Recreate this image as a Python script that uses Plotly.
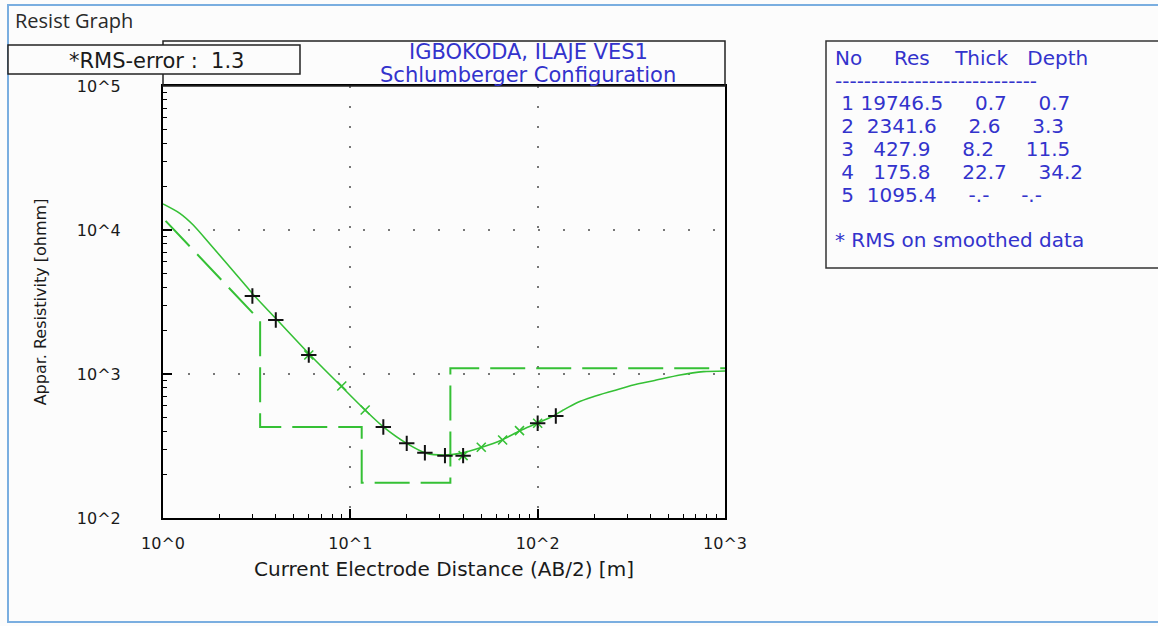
import plotly.graph_objects as go

# ---------------- data ----------------
# Layer model (table on the right)
layer_no = [1, 2, 3, 4, 5]
layer_res = [19746.5, 2341.6, 427.9, 175.8, 1095.4]
layer_thick = [0.7, 2.6, 8.2, 22.7, None]
layer_depth = [0.7, 3.3, 11.5, 34.2, None]
rms_error = 1.3

# Field data (black +)
obs_ab2 = [3, 4, 6, 15, 20, 25, 32, 40, 100, 125]
obs_rho = [3480, 2370, 1355, 428, 330, 284, 271, 271, 455, 511]

# Smoothed data (green x)
sm_ab2 = [6, 9, 12, 40, 50, 65, 80, 100]
sm_rho = [1355, 826, 562, 271, 310, 348, 404, 455]

# Computed (model) sounding curve
curve_ab2 = [1.0, 1.23, 1.45, 1.78, 2.19, 2.69, 3.03, 4.05, 6.1, 8.8, 12.25,
             15.0, 20.0, 25.6, 31.4, 38.5, 50.4, 64.3, 80.5, 99.5, 121, 137,
             162, 198, 254, 324, 415, 575, 767, 1000]
curve_rho = [15170, 13060, 10840, 8000, 5850, 4285, 3565, 2388, 1355, 839, 547,
             430, 330, 281, 274, 281, 310, 348, 404, 455, 511, 562,
             632, 695, 765, 839, 898, 984, 1038, 1050]

x_exps = [0, 1, 2, 3]
y_exps = [2, 3, 4, 5]

# ---------------- layout geometry ----------------
W, H = 1158, 626
L, R, T, B = 163, 725, 86, 518


def px(x):
    return (x - L) / (R - L)


def py(y):
    return (B - y) / (B - T)


GREEN = "#35c035"
BLUE = "#3333cc"
BG = "#fcfcfc"
FONT = "DejaVu Sans"

# model step line built from the layer table
step_x = [layer_depth[0]]
step_y = [layer_res[0]]
for i in range(1, 4):
    step_x += [layer_depth[i], layer_depth[i]]
    step_y += [layer_res[i], layer_res[i + 1]]
step_x.append(10 ** x_exps[-1])
step_y.append(layer_res[4])

fig = go.Figure()
fig.add_trace(go.Scatter(x=step_x, y=step_y, mode="lines",
                         line=dict(color=GREEN, width=2, dash="35px,11px"),
                         hoverinfo="skip", showlegend=False))
fig.add_trace(go.Scatter(x=curve_ab2, y=curve_rho, mode="lines",
                         line=dict(color=GREEN, width=1.6, shape="spline",
                                   smoothing=0.7),
                         showlegend=False))
fig.add_trace(go.Scatter(x=sm_ab2, y=sm_rho, mode="markers",
                         marker=dict(symbol="x-thin", size=9,
                                     line=dict(color=GREEN, width=1.6)),
                         showlegend=False))
fig.add_trace(go.Scatter(x=obs_ab2, y=obs_rho, mode="markers",
                         marker=dict(symbol="cross-thin", size=11,
                                     line=dict(color="#111111", width=2)),
                         showlegend=False))

minor_x = [m * 10 ** e for e in x_exps[:-1] for m in range(2, 10)]
minor_y = [m * 10 ** e for e in y_exps[:-1] for m in range(2, 10)]

fig.update_layout(
    width=W, height=H, autosize=False,
    margin=dict(l=L, r=W - R, t=T, b=H - B, pad=0),
    paper_bgcolor=BG, plot_bgcolor=BG,
    font=dict(family=FONT, color="#1a1a1a"),
    xaxis=dict(
        type="log", range=[x_exps[0], x_exps[-1]],
        tickvals=[10 ** e for e in x_exps],
        ticktext=[f"10^{e}" for e in x_exps],
        ticks="inside", ticklen=9, tickwidth=1.5, tickcolor="black",
        ticklabelstandoff=10,
        tickfont=dict(size=16, family=FONT, color="#1a1a1a"),
        showline=True, linecolor="black", linewidth=2, mirror=True,
        showgrid=True, gridcolor="#777777", gridwidth=2, griddash="2px,18px",
        zeroline=False,
        minor=dict(tickvals=minor_x, ticks="inside", ticklen=4, tickwidth=1.2,
                   tickcolor="black", showgrid=False),
        title=dict(text="Current Electrode Distance (AB/2) [m]",
                   font=dict(size=20, family=FONT, color="#1a1a1a"), standoff=10),
    ),
    yaxis=dict(
        type="log", range=[y_exps[0], y_exps[-1]],
        tickvals=[10 ** e for e in y_exps],
        ticktext=[f"10^{e}" for e in y_exps],
        ticks="inside", ticklen=9, tickwidth=1.5, tickcolor="black",
        ticklabelstandoff=37,
        tickfont=dict(size=16, family=FONT, color="#1a1a1a"),
        showline=True, linecolor="black", linewidth=2, mirror=True,
        showgrid=True, gridcolor="#777777", gridwidth=2, griddash="2px,23px",
        zeroline=False,
        minor=dict(tickvals=minor_y, ticks="inside", ticklen=4, tickwidth=1.2,
                   tickcolor="black", showgrid=False),
        title=dict(text="Appar. Resistivity [ohmm]",
                   font=dict(size=16, family=FONT, color="#1a1a1a"), standoff=26),
    ),
    xaxis2=dict(type="log", range=[x_exps[0], x_exps[-1]], overlaying="x",
                side="top", anchor="y", tickvals=[10 ** e for e in x_exps[1:-1]],
                ticks="inside", ticklen=5, tickwidth=1.5, tickcolor="black",
                showticklabels=False, showgrid=False, showline=False, zeroline=False),
    yaxis2=dict(type="log", range=[y_exps[0], y_exps[-1]], overlaying="y",
                side="right", anchor="x", tickvals=[10 ** e for e in y_exps[1:-1]],
                ticks="inside", ticklen=8, tickwidth=1.5, tickcolor="black",
                showticklabels=False, showgrid=False, showline=False, zeroline=False),
)

shapes = [
    # window frame
    dict(type="rect", xref="paper", yref="paper", x0=px(8), x1=px(1175),
         y0=py(622), y1=py(5), line=dict(color="#7aaee0", width=2), layer="below"),
    # title box
    dict(type="rect", xref="paper", yref="paper", x0=px(L), x1=px(R),
         y0=py(T), y1=py(41), line=dict(color="#222222", width=1.5)),
    # RMS box
    dict(type="rect", xref="paper", yref="paper", x0=px(8), x1=px(300),
         y0=py(74), y1=py(45), line=dict(color="#222222", width=1.5),
         fillcolor=BG, layer="above"),
    # table box
    dict(type="rect", xref="paper", yref="paper", x0=px(826), x1=px(1180),
         y0=py(268), y1=py(41), line=dict(color="#333333", width=1.5)),
]
fig.update_layout(shapes=shapes)

NB = "\u00a0"


def sp(n):
    return NB * n


def ann(text, x, y, size=20, color=BLUE, xanchor="left", family=FONT):
    fig.add_annotation(text=text, xref="paper", yref="paper", x=px(x), y=py(y),
                       xanchor=xanchor, yanchor="middle", showarrow=False,
                       font=dict(size=size, color=color, family=family))


ann("Resist Graph", 13, 20, size=20, color="#2a2a2a", family="Open Sans")
ann(f"*RMS-error :{sp(2)}{rms_error}", 156, 61, size=21, color="#1a1a1a",
    xanchor="center")
ann("IGBOKODA, ILAJE VES1", 528, 52, size=21, xanchor="center")
ann("Schlumberger Configuration", 528, 75, size=21, xanchor="center")

# table
ann(f"No{sp(5)}Res{sp(4)}Thick{sp(3)}Depth", 833, 58)
ann("-" * 28, 833, 81, size=20)
row_y = [103, 126, 149, 172, 195]
for n, r, t, d, yy in zip(layer_no, layer_res, layer_thick, layer_depth, row_y):
    rs = f"{r:.1f}"
    ts = f"{t:.1f}" if t is not None else "-.-"
    ds = f"{d:.1f}" if d is not None else "-.-"
    pad = 1 + (7 - len(rs))
    text = f"{sp(1)}{n}{sp(pad)}{rs}{sp(5)}{ts}{sp(5)}{ds}"
    ann(text, 833, yy)
ann("* RMS on smoothed data", 833, 240)

fig.write_html("out.html", config={"displayModeBar": False},
               post_script="document.body.style.margin='0';"
                           "document.body.style.overflow='hidden';")
